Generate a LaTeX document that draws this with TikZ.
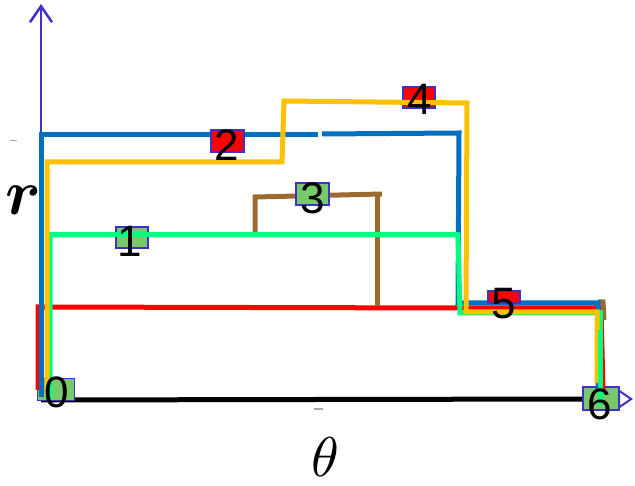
\documentclass[tikz,border=0pt]{standalone}
\usepackage{fontspec}
\usepackage{bm}
\newfontfamily\digitfont{Liberation Sans}
\usetikzlibrary{arrows.meta}
\definecolor{axisc}{HTML}{3C32C8}
\definecolor{blueL}{HTML}{0070C0}
\definecolor{yellowL}{HTML}{FFC000}
\definecolor{greenL}{HTML}{00FF80}
\definecolor{redL}{HTML}{FF0000}
\definecolor{brownL}{HTML}{9A6A30}
\definecolor{boxgreen}{HTML}{78C86C}
\tikzset{
  line/.style={line width=5pt, line join=miter},
  gbox/.style={draw=axisc, line width=1.5pt, fill=boxgreen, minimum width=#1, inner sep=0pt},
  rbox/.style={draw=axisc, line width=1.5pt, fill=redL, minimum width=#1, inner sep=0pt},
  num/.style={font=\digitfont\fontsize{44}{44}\selectfont, inner sep=0pt, text=black},
}
\begin{document}
\begin{tikzpicture}[x=1pt,y=-1pt]
\useasboundingbox[fill=white] (0,0) rectangle (635,486);
% axes
\node[inner sep=0pt] (O) at (41,400) {};
\coordinate (ytop) at (41,4);
\coordinate (xend) at (633,399);
\draw[axisc, line width=2.5pt, -{Straight Barb[length=16pt,width=22pt,line width=2.5pt]}] (O.center) -- (ytop);
\draw[axisc, line width=2pt, -{Triangle[open,length=15pt,width=20pt,line width=2pt]}] (O.center) -- (xend);
\coordinate (xblack) at (590,399);
\draw[black, line width=5pt] (O.center) -- (xblack);
% tiny marks
\draw[gray!70, line width=1pt] (10,141) -- (17,141);
\draw[gray!70, line width=1.2pt] (314,409) -- (323,409);
% boxes under lines
\node[gbox=37pt, minimum height=22pt] (b0) at (56,389.5) {};
\node[gbox=36pt, minimum height=23pt] (b6) at (601,398.5) {};
% red
\draw[line, redL] (38,390) -- (38,307) -- (460,308) -- (601,308) -- (603,390);
% brown
\draw[line, brownL] (255,232) -- (255,197) -- (382,194);
\draw[line, brownL] (377,194) -- (377,306);
\draw[line, brownL] (598,302) -- (603,302) -- (604,320);
% box 3 over brown
\node[gbox=33pt, minimum height=22pt] (b3) at (312.5,194) {};
% blue
\draw[line, blueL] (41,397) -- (41,135) -- (318,135);
\draw[line, blueL] (322,134) -- (459,133) -- (458,303) -- (598,303) -- (598,390);
% box 2 over blue
\node[rbox=33pt, minimum height=22pt] (b2) at (227.5,141) {};
% green
\draw[line, greenL] (50,398) -- (50,235) -- (458,235) -- (460,313) -- (598,313);
\draw[line, greenL] (600,310) -- (600,405);
% box 1
\node[gbox=32pt, minimum height=21pt] (b1) at (132,237.5) {};
\draw[line, greenL] (50,235) -- (458,235);
% box 4 and box 5 under yellow
\node[rbox=32pt, minimum height=21pt] (b4) at (419,97.5) {};
\node[rbox=32pt, minimum height=12pt] (b5) at (504,297) {};
% yellow
\draw[line, yellowL] (47,396) -- (47,162) -- (282,162) -- (284,101) -- (467,103) -- (466,312) -- (597,312) -- (597,383);
\draw[line, greenL] (600,330) -- (600,405);
% numbers
\node[num] (n0) at (57,392) {0};
\node[num] (n1) at (130,241) {1};
\node[num] (n2) at (227,145) {2};
\node[num] (n3) at (313,198) {3};
\node[num] (n4) at (420,99) {4};
\node[num] (n5) at (504,304) {5};
\node[num] (n6) at (600,404) {6};
% axis labels
\node[inner sep=0pt, scale=6.4] (rl) at (23,200) {$\bm{r}$};
\node[inner sep=0pt, scale=5.6] (tl) at (325,457) {$\theta$};
\end{tikzpicture}
\end{document}
